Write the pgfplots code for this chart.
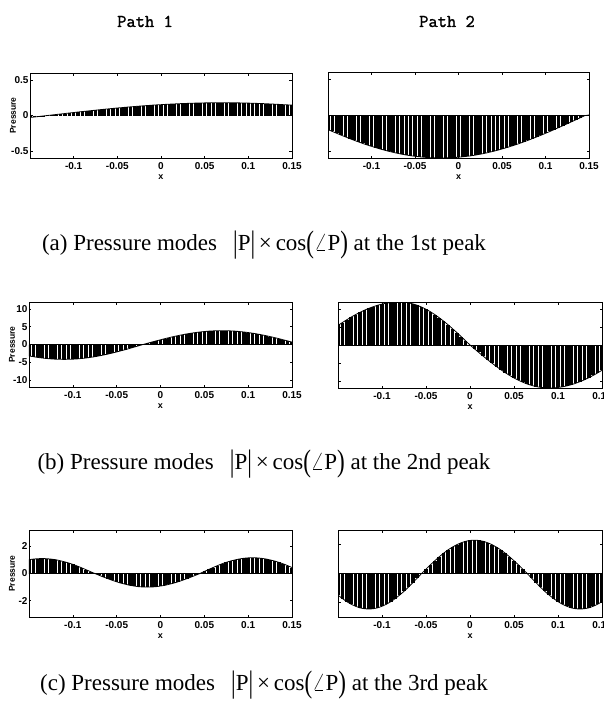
\documentclass[border=0pt]{standalone}
\usepackage{fontspec}
\setmainfont{Liberation Serif}
\newfontfamily\axfont{Liberation Sans}
\newfontfamily\pathfont{Latin Modern Mono}[FakeBold=1.3]
\usepackage{graphicx}
\usepackage{pgfplots}
\usepackage{pgfplotstable}
\pgfplotsset{compat=1.18}

\pgfplotstableread{
x a1 a2 b1 b2 c1 c2
-0.150 -0.028 -0.203 -3.22 5.45 1.02 -1.49
-0.145 -0.021 -0.230 -3.44 6.27 1.06 -1.73
-0.140 -0.014 -0.255 -3.64 7.05 1.09 -1.94
-0.135 -0.007 -0.281 -3.81 7.79 1.10 -2.12
-0.130 0.000 -0.305 -3.95 8.49 1.09 -2.26
-0.125 0.007 -0.329 -4.06 9.12 1.06 -2.37
-0.120 0.014 -0.353 -4.14 9.71 1.02 -2.43
-0.115 0.021 -0.375 -4.18 10.23 0.95 -2.45
-0.110 0.028 -0.397 -4.20 10.69 0.87 -2.43
-0.105 0.035 -0.418 -4.18 11.09 0.78 -2.37
-0.100 0.042 -0.437 -4.14 11.41 0.67 -2.26
-0.095 0.049 -0.456 -4.06 11.67 0.55 -2.12
-0.090 0.056 -0.474 -3.95 11.85 0.42 -1.94
-0.085 0.062 -0.491 -3.81 11.96 0.28 -1.73
-0.080 0.069 -0.507 -3.64 12.00 0.14 -1.49
-0.075 0.075 -0.521 -3.44 11.94 0.00 -1.23
-0.070 0.082 -0.535 -3.22 11.77 -0.13 -0.94
-0.065 0.088 -0.547 -2.97 11.48 -0.26 -0.63
-0.060 0.094 -0.558 -2.70 11.09 -0.38 -0.32
-0.055 0.100 -0.568 -2.41 10.58 -0.50 0.00
-0.050 0.106 -0.576 -2.10 9.98 -0.61 0.30
-0.045 0.111 -0.583 -1.77 9.28 -0.71 0.60
-0.040 0.117 -0.589 -1.44 8.49 -0.79 0.88
-0.035 0.122 -0.594 -1.09 7.61 -0.87 1.15
-0.030 0.127 -0.597 -0.73 6.67 -0.92 1.40
-0.025 0.132 -0.599 -0.37 5.66 -0.97 1.63
-0.020 0.137 -0.600 0.00 4.59 -0.99 1.82
-0.015 0.141 -0.599 0.34 3.48 -1.00 1.99
-0.010 0.146 -0.597 0.68 2.34 -0.99 2.12
-0.005 0.150 -0.594 1.01 1.18 -0.97 2.22
0.000 0.153 -0.589 1.33 0.00 -0.92 2.28
0.005 0.157 -0.583 1.65 -1.05 -0.87 2.30
0.010 0.160 -0.576 1.95 -2.08 -0.79 2.28
0.015 0.163 -0.568 2.24 -3.11 -0.71 2.22
0.020 0.166 -0.558 2.51 -4.10 -0.61 2.12
0.025 0.169 -0.547 2.76 -5.07 -0.50 1.99
0.030 0.171 -0.535 2.99 -6.00 -0.38 1.82
0.035 0.173 -0.521 3.19 -6.88 -0.26 1.63
0.040 0.175 -0.507 3.38 -7.71 -0.13 1.40
0.045 0.177 -0.491 3.53 -8.49 0.00 1.15
0.050 0.178 -0.474 3.66 -9.19 0.15 0.88
0.055 0.179 -0.456 3.77 -9.83 0.30 0.60
0.060 0.179 -0.437 3.84 -10.39 0.44 0.30
0.065 0.180 -0.418 3.89 -10.88 0.58 0.00
0.070 0.180 -0.397 3.90 -11.28 0.71 -0.32
0.075 0.180 -0.375 3.89 -11.59 0.82 -0.63
0.080 0.179 -0.353 3.84 -11.82 0.92 -0.94
0.085 0.179 -0.329 3.77 -11.95 1.00 -1.23
0.090 0.178 -0.305 3.66 -12.00 1.07 -1.49
0.095 0.177 -0.281 3.53 -11.96 1.12 -1.73
0.100 0.175 -0.255 3.38 -11.85 1.15 -1.94
0.105 0.173 -0.230 3.19 -11.67 1.16 -2.12
0.110 0.171 -0.203 2.99 -11.41 1.15 -2.26
0.115 0.169 -0.176 2.76 -11.09 1.12 -2.37
0.120 0.166 -0.149 2.51 -10.69 1.07 -2.43
0.125 0.163 -0.122 2.24 -10.23 1.00 -2.45
0.130 0.160 -0.094 1.95 -9.71 0.92 -2.43
0.135 0.157 -0.066 1.65 -9.12 0.82 -2.37
0.140 0.153 -0.038 1.33 -8.49 0.71 -2.26
0.145 0.150 -0.009 1.01 -7.79 0.58 -2.12
0.150 0.146 0.000 0.68 -7.05 0.44 -1.94
}\modes

\pgfplotsset{
  panel/.style={
    scale only axis,
    xmin=-0.15, xmax=0.15,
    xtick={-0.1,-0.05,0,0.05,0.1,0.15},
    xticklabels={-0.1,-0.05,0,0.05,0.1,0.15},
    tick align=inside, major tick length=2.5pt,
    tick style={black, line width=0.6pt},
    axis line style={black, line width=0.8pt},
    ticklabel style={font=\axfont\bfseries\fontsize{10}{10}\selectfont},
    xticklabel style={yshift=-1pt},
    yticklabel style={xshift=2pt},
    xlabel={x},
    every axis x label/.style={at={(axis description cs:0.5,0)}, anchor=north, yshift=-13pt, font=\axfont\bfseries\fontsize{9}{9}\selectfont},
    every axis y label/.style={at={(axis description cs:0,0.5)}, xshift=-17pt, rotate=90, anchor=center, font=\axfont\bfseries\fontsize{8.5}{8.5}\selectfont},
  },
  stems/.style={ycomb, black, line width=3.6pt, no markers},
  outline/.style={black, line width=0.8pt, no markers},
}

\newcommand{\bigsym}[1]{\raisebox{-0.12em}{\scalebox{1}[1.35]{#1}}}
\newcommand{\modecap}[2]{(#1) Pressure modes\hspace{0.7em}\bigsym{|}P\bigsym{|}\,×\,cos\bigsym{(}$\angle$P\bigsym{)} at the #2 peak}

\begin{document}
\begin{tikzpicture}
\useasboundingbox (0pt,0pt) rectangle (603pt,-712pt);

\node[font=\pathfont\fontsize{18}{18}\selectfont, anchor=base] at (145pt,-27pt) {Path 1};
\node[font=\pathfont\fontsize{18}{18}\selectfont, anchor=base] at (447pt,-27pt) {Path 2};

% Row (a)
\begin{axis}[panel, at={(30pt,-158pt)}, anchor=south west, width=262pt, height=85pt,
  ymin=-0.6, ymax=0.6, ytick={-0.5,0,0.5}, yticklabels={-0.5,0,0.5}, ylabel={Pressure}]
  \addplot[stems] table[x=x, y=a1] {\modes};
  \addplot[outline] table[x=x, y=a1] {\modes};
\end{axis}
\begin{axis}[panel, at={(328pt,-158pt)}, anchor=south west, width=261pt, height=86pt,
  ymin=-0.6, ymax=0.6, ytick={-0.5,0,0.5}, yticklabels={}]
  \addplot[stems] table[x=x, y=a2] {\modes};
  \addplot[outline] table[x=x, y=a2] {\modes};
  \addplot[outline] coordinates {(-0.15,0) (0.15,0)};
\end{axis}
\node[font=\fontsize{23}{23}\selectfont, anchor=base] at (264pt,-250pt) {\modecap{a}{1st}};

% Row (b)
\begin{axis}[panel, at={(29pt,-387pt)}, anchor=south west, width=263pt, height=85pt,
  ymin=-12, ymax=12, ytick={-10,-5,0,5,10}, yticklabels={-10,-5,0,5,10}, ylabel={Pressure}]
  \addplot[stems] table[x=x, y=b1] {\modes};
  \addplot[outline] table[x=x, y=b1] {\modes};
  \addplot[outline] coordinates {(-0.15,0) (0.15,0)};
\end{axis}
\begin{axis}[panel, at={(338pt,-388pt)}, anchor=south west, width=264pt, height=86pt,
  ymin=-12, ymax=12, ytick={-10,-5,0,5,10}, yticklabels={}]
  \addplot[stems] table[x=x, y=b2] {\modes};
  \addplot[outline] table[x=x, y=b2] {\modes};
  \addplot[outline] coordinates {(-0.15,0) (0.15,0)};
\end{axis}
\node[font=\fontsize{23}{23}\selectfont, anchor=base] at (264pt,-469pt) {\modecap{b}{2nd}};

% Row (c)
\begin{axis}[panel, at={(29pt,-617pt)}, anchor=south west, width=263pt, height=87pt,
  ymin=-3.2, ymax=3.2, ytick={-2,0,2}, yticklabels={-2,0,2}, ylabel={Pressure}]
  \addplot[stems] table[x=x, y=c1] {\modes};
  \addplot[outline] table[x=x, y=c1] {\modes};
  \addplot[outline] coordinates {(-0.15,0) (0.15,0)};
\end{axis}
\begin{axis}[panel, at={(338pt,-617pt)}, anchor=south west, width=264pt, height=87pt,
  ymin=-3, ymax=3, ytick={-2,0,2}, yticklabels={}]
  \addplot[stems] table[x=x, y=c2] {\modes};
  \addplot[outline] table[x=x, y=c2] {\modes};
  \addplot[outline] coordinates {(-0.15,0) (0.15,0)};
\end{axis}
\node[font=\fontsize{23}{23}\selectfont, anchor=base] at (264pt,-690pt) {\modecap{c}{3rd}};
\end{tikzpicture}
\end{document}
